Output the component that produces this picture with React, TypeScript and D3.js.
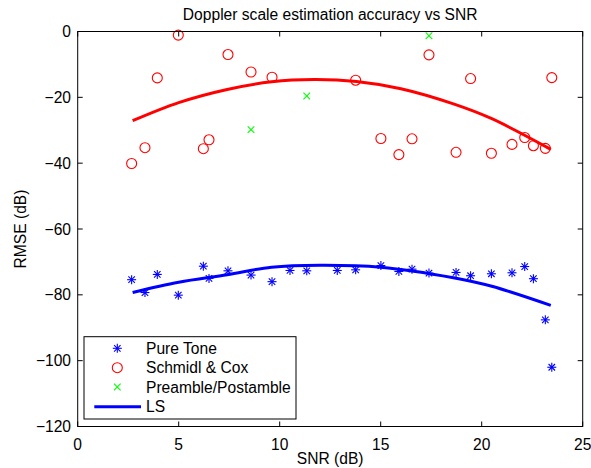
import React from "react";
import * as d3 from "d3";

const pureToneSNR = [2.67, 3.33, 3.94, 4.98, 6.22, 6.5, 7.44, 8.58, 9.62, 10.51, 11.34, 12.85, 13.76, 15.01, 15.9, 16.55, 17.39, 18.73, 19.45, 20.48, 21.5, 22.13, 22.56, 23.15, 23.47];
const pureToneRMSE = [-75.4, -79.3, -73.8, -80.1, -71.3, -75.0, -72.7, -74.0, -76.0, -72.6, -72.7, -72.6, -72.4, -71.1, -72.9, -72.2, -73.4, -73.2, -74.2, -73.6, -73.3, -71.4, -75.1, -87.6, -102.0];

const schmidlSNR = [2.67, 3.33, 3.94, 4.98, 6.22, 6.5, 7.44, 8.58, 9.62, 13.76, 15.01, 15.9, 16.55, 17.39, 18.73, 19.45, 20.48, 21.5, 22.13, 22.56, 23.15, 23.47];
const schmidlRMSE = [-40.1, -35.3, -14.1, -1.1, -35.6, -32.9, -7.0, -12.3, -13.9, -14.8, -32.5, -37.4, -32.6, -7.1, -36.7, -14.3, -37.0, -34.3, -32.2, -34.7, -35.5, -14.0];

const preambleSNR = [8.58, 11.34, 17.39];
const preambleRMSE = [-29.8, -19.6, -1.3];

const lsBlueSNR = [2.72, 5.0, 7.4, 9.6, 12.0, 15.0, 18.6, 20.5, 23.42];
const lsBlueRMSE = [-79.3, -76.2, -73.9, -71.6, -71.0, -71.6, -74.8, -77.4, -83.2];

const lsRedSNR = [2.72, 5.0, 7.4, 9.6, 11.7, 13.8, 16.0, 18.6, 20.5, 23.42];
const lsRedRMSE = [-27.1, -21.6, -17.6, -15.3, -14.6, -15.2, -17.4, -22.0, -26.5, -35.8];

const xTicks = [0, 5, 10, 15, 20, 25];
const yTicks = [0, -20, -40, -60, -80, -100, -120];

const legendLabels = ["Pure Tone", "Schmidl & Cox", "Preamble/Postamble", "LS"];

const FONT = "'Liberation Sans', Arial, Helvetica, sans-serif";
const FS = 15.6;

const fmt = (v: number) => (v < 0 ? "\u2212" + Math.abs(v) : String(v));

function Star({ x, y, c }: { x: number; y: number; c: string }) {
  const s = 4.5;
  const d = s * 0.72;
  return (
    <g stroke={c} strokeWidth={1.1} fill="none">
      <line x1={x - s} y1={y} x2={x + s} y2={y} />
      <line x1={x} y1={y - s} x2={x} y2={y + s} />
      <line x1={x - d} y1={y - d} x2={x + d} y2={y + d} />
      <line x1={x - d} y1={y + d} x2={x + d} y2={y - d} />
    </g>
  );
}

function XMark({ x, y, c }: { x: number; y: number; c: string }) {
  const s = 3.3;
  return (
    <g stroke={c} strokeWidth={1.1} fill="none">
      <line x1={x - s} y1={y - s} x2={x + s} y2={y + s} />
      <line x1={x - s} y1={y + s} x2={x + s} y2={y - s} />
    </g>
  );
}

export default function App() {
  const W = 591, H = 468;
  const left = 77.7, right = 582.7, top = 31.5, bottom = 426.5;
  const x = d3.scaleLinear().domain([0, 25]).range([left, right]);
  const y = d3.scaleLinear().domain([0, -120]).range([top, bottom]);

  const line = d3
    .line<[number, number]>()
    .x((d) => x(d[0]))
    .y((d) => y(d[1]))
    .curve(d3.curveCatmullRom.alpha(0.5));

  const bluePts = lsBlueSNR.map((v, i) => [v, lsBlueRMSE[i]] as [number, number]);
  const redPts = lsRedSNR.map((v, i) => [v, lsRedRMSE[i]] as [number, number]);

  const tl = 5;
  const lgX = 84, lgY = 336.7, lgW = 212, lgH = 82.3;
  const rowY = [348.3, 367.7, 387, 406.7];

  return (
    <svg
      width={W}
      height={H}
      style={{ position: "absolute", left: 0, top: 0, background: "#fff" }}
      fontFamily={FONT}
      fontSize={FS}
    >
      <rect x={0} y={0} width={W} height={H} fill="#fff" />
      {/* data */}
      <path d={line(redPts) || ""} stroke="#ff0000" strokeWidth={3} fill="none" />
      <path d={line(bluePts) || ""} stroke="#0000ff" strokeWidth={3} fill="none" />
      {pureToneSNR.map((v, i) => (
        <Star key={"s" + i} x={x(v)} y={y(pureToneRMSE[i])} c="#0000ff" />
      ))}
      {schmidlSNR.map((v, i) => (
        <circle key={"c" + i} cx={x(v)} cy={y(schmidlRMSE[i])} r={5} stroke="#ff0000" strokeWidth={1.1} fill="none" />
      ))}
      {preambleSNR.map((v, i) => (
        <XMark key={"x" + i} x={x(v)} y={y(preambleRMSE[i])} c="#00ff00" />
      ))}

      {/* axes box */}
      <rect x={left} y={top} width={right - left} height={bottom - top} fill="none" stroke="#000" strokeWidth={1} />
      {xTicks.map((t) => (
        <g key={"xt" + t}>
          <line x1={x(t)} x2={x(t)} y1={bottom} y2={bottom - tl} stroke="#000" />
          <line x1={x(t)} x2={x(t)} y1={top} y2={top + tl} stroke="#000" />
          <text x={x(t)} y={449.5} textAnchor="middle" fill="#000">
            {fmt(t)}
          </text>
        </g>
      ))}
      {yTicks.map((t) => (
        <g key={"yt" + t}>
          <line x1={left} x2={left + tl} y1={y(t)} y2={y(t)} stroke="#000" />
          <line x1={right} x2={right - tl} y1={y(t)} y2={y(t)} stroke="#000" />
          <text x={71} y={y(t) + 5.5} textAnchor="end" fill="#000">
            {fmt(t)}
          </text>
        </g>
      ))}

      {/* labels */}
      <text x={(left + right) / 2} y={19.5} textAnchor="middle" fill="#000">
        Doppler scale estimation accuracy vs SNR
      </text>
      <text x={(left + right) / 2} y={464} textAnchor="middle" fill="#000">
        SNR (dB)
      </text>
      <text transform={`translate(26,${(top + bottom) / 2}) rotate(-90)`} textAnchor="middle" fill="#000">
        RMSE (dB)
      </text>

      {/* legend */}
      <rect x={lgX} y={lgY} width={lgW} height={lgH} fill="#fff" stroke="#000" strokeWidth={1} />
      <Star x={117.3} y={rowY[0]} c="#0000ff" />
      <circle cx={117.3} cy={rowY[1]} r={5} stroke="#ff0000" strokeWidth={1.1} fill="none" />
      <XMark x={117.3} y={rowY[2]} c="#00ff00" />
      <line x1={94.3} x2={141} y1={rowY[3]} y2={rowY[3]} stroke="#0000ff" strokeWidth={3} />
      {legendLabels.map((l, i) => (
        <text key={l} x={146} y={rowY[i] + 5.5} fill="#000">
          {l}
        </text>
      ))}
    </svg>
  );
}
